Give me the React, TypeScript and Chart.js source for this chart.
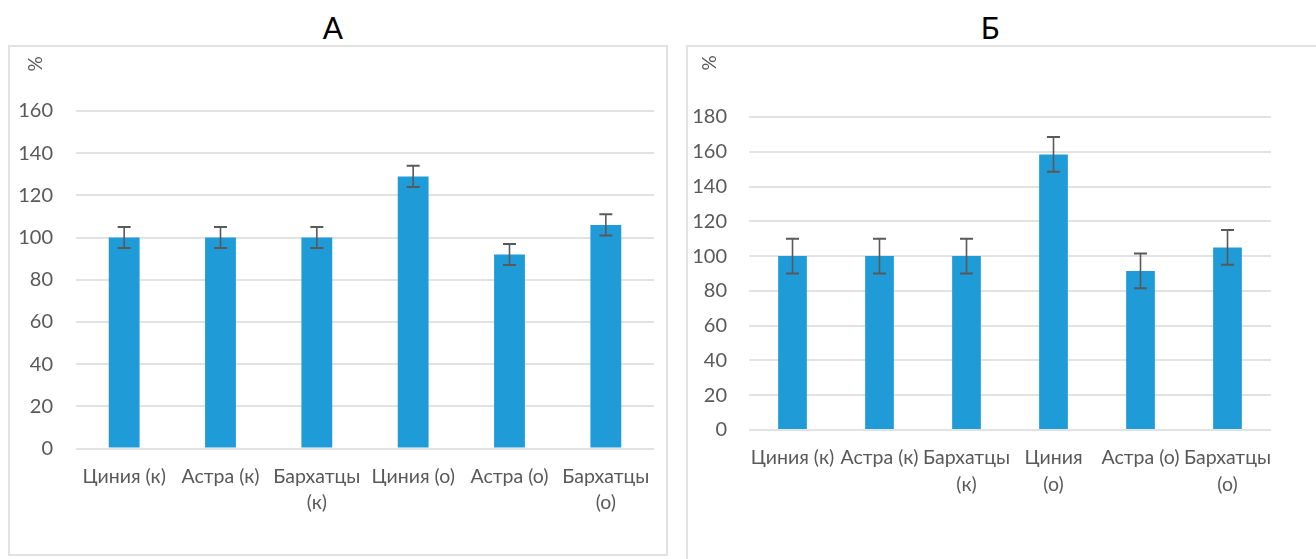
import React, { useEffect, useRef } from "react";
import { Chart, registerables } from "chart.js";

Chart.register(...registerables);

// ---------- Data ----------
const titleA = "А";
const titleB = "Б";
const unitLabel = "%";

const categoriesA: (string | string[])[] = [
  "Циния (к)",
  "Астра (к)",
  ["Бархатцы", "(к)"],
  "Циния (о)",
  "Астра (о)",
  ["Бархатцы", "(о)"],
];
const valuesA = [100, 100, 100, 129, 92, 106];
const errorsA = [5, 5, 5, 5, 5, 5];
const yMaxA = 160;

const categoriesB: (string | string[])[] = [
  "Циния (к)",
  "Астра (к)",
  ["Бархатцы", "(к)"],
  ["Циния", "(о)"],
  "Астра (о)",
  ["Бархатцы", "(о)"],
];
const valuesB = [100, 100, 100, 158.5, 91.5, 105];
const errorsB = [10, 10, 10, 10, 10, 10];
const yMaxB = 180;

const yStep = 20;

// ---------- Styles ----------
const BAR_COLOR = "#1F9BD7";
const TEXT_COLOR = "#595959";
const GRID_COLOR = "#e2e2e2";
const ERR_COLOR = "#595959";
const FONT_FAMILY = "Lato, 'Open Sans', sans-serif";

const errorBarPlugin = {
  id: "errorBars",
  afterDatasetsDraw(chart: any, _args: any, opts: any) {
    const errors: number[] = opts.errors || [];
    const yScale = chart.scales.y;
    const meta = chart.getDatasetMeta(0);
    const values = chart.data.datasets[0].data as number[];
    const ctx = chart.ctx;
    ctx.save();
    ctx.strokeStyle = ERR_COLOR;
    meta.data.forEach((bar: any, i: number) => {
      const v = values[i];
      const e = errors[i] || 0;
      const x = bar.x;
      const yTop = yScale.getPixelForValue(v + e);
      const yBot = yScale.getPixelForValue(v - e);
      const half = opts.capHalf || 6.5;
      ctx.lineWidth = 1.6;
      ctx.beginPath();
      ctx.moveTo(x, yTop);
      ctx.lineTo(x, yBot);
      ctx.stroke();
      ctx.lineWidth = 2;
      ctx.beginPath();
      ctx.moveTo(x - half, yTop);
      ctx.lineTo(x + half, yTop);
      ctx.moveTo(x - half, yBot);
      ctx.lineTo(x + half, yBot);
      ctx.stroke();
    });
    ctx.restore();
  },
};

type PanelProps = {
  labels: (string | string[])[];
  values: number[];
  errors: number[];
  yMax: number;
  width: number;
  height: number;
  padTop: number;
  padRight: number;
  yWidth: number;
  xHeight: number;
  yTickPad: number;
  barPct: number;
};

function BarPanel(p: PanelProps) {
  const ref = useRef<HTMLCanvasElement | null>(null);
  useEffect(() => {
    if (!ref.current) return;
    const chart = new Chart(ref.current, {
      type: "bar",
      data: {
        labels: p.labels as any,
        datasets: [
          {
            data: p.values,
            backgroundColor: BAR_COLOR,
            borderWidth: 0,
            barPercentage: p.barPct,
            categoryPercentage: 1,
          },
        ],
      },
      options: {
        responsive: false,
        animation: false,
        devicePixelRatio: 1,
        layout: { padding: { top: p.padTop, right: p.padRight, left: 0, bottom: 0 } },
        plugins: {
          legend: { display: false },
          tooltip: { enabled: false },
          title: { display: false },
          errorBars: { errors: p.errors, capHalf: 6.5 },
        } as any,
        scales: {
          x: {
            grid: { display: false, drawTicks: false },
            border: { display: false },
            ticks: {
              color: TEXT_COLOR,
              font: { family: FONT_FAMILY, size: 19.5, lineHeight: 1.37 },
              padding: 14.5,
              autoSkip: false,
              maxRotation: 0,
              minRotation: 0,
            },
            afterFit: (s: any) => {
              s.height = p.xHeight;
            },
          },
          y: {
            min: 0,
            max: p.yMax,
            grid: { color: GRID_COLOR, lineWidth: 2, drawTicks: false },
            border: { display: false },
            ticks: {
              stepSize: yStep,
              color: TEXT_COLOR,
              font: { family: FONT_FAMILY, size: 20 },
              padding: p.yTickPad,
            },
            afterFit: (s: any) => {
              s.width = p.yWidth;
            },
          },
        },
      },
      plugins: [errorBarPlugin as any],
    });
    return () => chart.destroy();
  }, []);
  return (
    <canvas
      ref={ref}
      width={p.width}
      height={p.height}
      style={{ width: p.width, height: p.height, display: "block" }}
    />
  );
}

const abs = (left: number, top: number, extra: React.CSSProperties = {}): React.CSSProperties => ({
  position: "absolute",
  left,
  top,
  ...extra,
});

export default function App() {
  const titleStyle: React.CSSProperties = {
    fontFamily: FONT_FAMILY,
    fontSize: 30,
    color: "#000",
    lineHeight: "30px",
    width: 100,
    textAlign: "center",
  };
  const unitStyle: React.CSSProperties = {
    fontFamily: FONT_FAMILY,
    fontSize: 19,
    color: TEXT_COLOR,
    width: 30,
    height: 30,
    display: "flex",
    alignItems: "center",
    justifyContent: "center",
    transform: "rotate(-90deg)",
    transformOrigin: "center center",
  };
  return (
    <div
      style={{
        position: "fixed",
        left: 0,
        top: 0,
        width: 1316,
        height: 559,
        overflow: "hidden",
        background: "#fff",
      }}
    >
      {/* Titles */}
      <div style={abs(283, 12, titleStyle)}>{titleA}</div>
      <div style={abs(940, 12, titleStyle)}>{titleB}</div>

      {/* Panel A box */}
      <div
        style={abs(8, 45, {
          width: 660,
          height: 511,
          border: "2px solid #e2e2e2",
          boxSizing: "border-box",
        })}
      />
      {/* Panel B box */}
      <div
        style={abs(686, 45, {
          width: 700,
          height: 600,
          border: "2px solid #e2e2e2",
          boxSizing: "border-box",
        })}
      />

      <div style={abs(9, 46)}>
        <BarPanel
          labels={categoriesA}
          values={valuesA}
          errors={errorsA}
          yMax={yMaxA}
          width={658}
          height={508}
          padTop={65}
          padRight={13}
          yWidth={67}
          xHeight={105.5}
          yTickPad={23}
          barPct={0.32}
        />
      </div>
      <div style={abs(687, 46)}>
        <BarPanel
          labels={categoriesB}
          values={valuesB}
          errors={errorsB}
          yMax={yMaxB}
          width={640}
          height={520}
          padTop={71}
          padRight={56}
          yWidth={62}
          xHeight={136}
          yTickPad={22}
          barPct={0.33}
        />
      </div>

      {/* Unit labels */}
      <div style={abs(19, 49, unitStyle)}>{unitLabel}</div>
      <div style={abs(693, 48, unitStyle)}>{unitLabel}</div>
    </div>
  );
}
